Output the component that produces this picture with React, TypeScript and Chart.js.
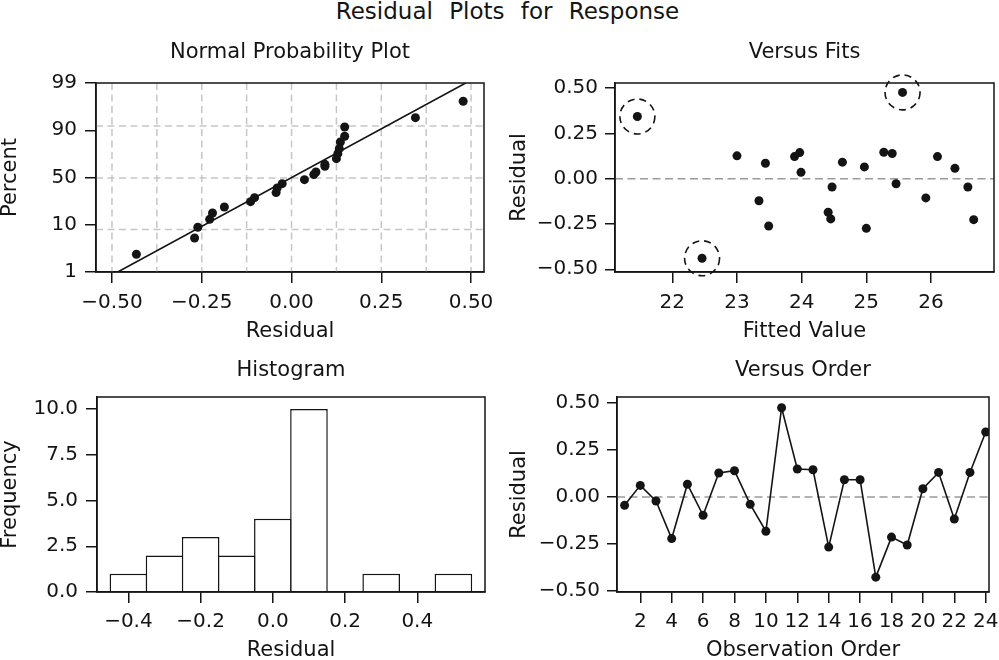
import React, { useEffect, useRef } from 'react';
import { Chart, registerables } from 'chart.js';

Chart.register(...registerables);

// ---------------- data ----------------
const MAIN_TITLE = 'Residual Plots for Response';

// Normal probability plot: residuals and their plotting position on the percent axis
// (percent axis position: 0 = 1 %, 1 = 10 %, 2 = 50 %, 3 = 90 %, 4 = 99 %)
const npResidual = [
  -0.432, -0.27, -0.261, -0.228, -0.22, -0.187, -0.114, -0.103, -0.043, -0.04, -0.026, 0.036,
  0.062, 0.068, 0.093, 0.093, 0.125, 0.129, 0.133, 0.136, 0.148, 0.148, 0.345, 0.478,
];
const npPercentPos = [
  0.375, 0.72, 0.946, 1.115, 1.249, 1.376, 1.489, 1.574, 1.68, 1.778, 1.87, 1.955,
  2.061, 2.117, 2.237, 2.279, 2.399, 2.505, 2.611, 2.752, 2.872, 3.069, 3.267, 3.613,
];
const npPercentTickPos = [0, 1, 2, 3, 4];
const npPercentLabels = ['1', '10', '50', '90', '99'];
const npFitResidual = [-0.484, 0.485];
const npFitPercentPos = [0, 4];
const npGridResidual = [-0.5, -0.375, -0.25, -0.125, 0, 0.125, 0.25, 0.375, 0.5];
const npGridPercentPos = [0.9, 1.99, 3.09];

// Versus fits
const fittedValue = [
  21.46, 22.46, 23.0, 23.34, 23.44, 23.49, 23.89, 23.97, 23.99, 24.41, 24.45, 24.47,
  24.63, 24.97, 25.0, 25.27, 25.4, 25.46, 25.56, 25.92, 26.1, 26.37, 26.57, 26.66,
];
const fitResidual = [
  0.343, -0.439, 0.126, -0.122, 0.085, -0.261, 0.122, 0.144, 0.035, -0.185, -0.222, -0.046,
  0.091, 0.065, -0.274, 0.146, 0.139, -0.028, 0.476, -0.106, 0.122, 0.057, -0.046, -0.226,
];
const circledFitIndex = [0, 1, 18];

// Histogram
const histBinCenter = [-0.4, -0.3, -0.2, -0.1, 0, 0.1, 0.2, 0.3, 0.4, 0.5];
const histCount = [1, 2, 3, 2, 4, 10, 0, 1, 0, 1];

// Versus order
const obsOrder = [1, 2, 3, 4, 5, 6, 7, 8, 9, 10, 11, 12, 13, 14, 15, 16, 17, 18, 19, 20, 21, 22, 23, 24];
const orderResidual = [
  -0.044, 0.062, -0.021, -0.221, 0.068, -0.097, 0.128, 0.14, -0.039, -0.182, 0.475, 0.149,
  0.145, -0.266, 0.092, 0.092, -0.426, -0.213, -0.255, 0.044, 0.131, -0.117, 0.131, 0.346,
];

// Tick values
const residualTicks = [-0.5, -0.25, 0, 0.25, 0.5];
const fitTicks = [22, 23, 24, 25, 26];
const histResidualTicks = [-0.4, -0.2, 0, 0.2, 0.4];
const freqTicks = [0, 2.5, 5, 7.5, 10];
const orderTicks = [2, 4, 6, 8, 10, 12, 14, 16, 18, 20, 22, 24];

// ---------------- styling ----------------
const FONT = "'DejaVu Sans', 'Liberation Sans', sans-serif";
const INK = '#141414';
const GRID = '#c6c6c6';
const REF = '#9a9a9a';

const tickFont = { family: FONT, size: 20, lineHeight: 1.2 };
const labelFont = { family: FONT, size: 21, lineHeight: 1 };
const titleFont = { family: FONT, size: 21, weight: 'normal' as const, lineHeight: 1.2 };

const signed = (v: number, d: number) => (v < 0 ? '\u2212' : '') + Math.abs(v).toFixed(d);

function axis(o: {
  pos: 'bottom' | 'left';
  min: number;
  max: number;
  ticks: number[];
  fmt: (v: number) => string;
  title: string;
  size: number;
  titlePad: number;
  tickPad: number;
  tickLen: number;
}) {
  const horizontal = o.pos === 'bottom';
  return {
    type: 'linear',
    position: o.pos,
    min: o.min,
    max: o.max,
    offset: false,
    afterBuildTicks: (s: any) => {
      s.ticks = o.ticks.map((v) => ({ value: v }));
    },
    afterFit: (s: any) => {
      if (horizontal) s.height = o.size;
      else s.width = o.size;
    },
    ticks: {
      autoSkip: false,
      maxRotation: 0,
      minRotation: 0,
      padding: o.tickPad,
      color: INK,
      font: tickFont,
      callback: (v: any) => o.fmt(Number(v)),
    },
    grid: {
      display: true,
      offset: false,
      drawOnChartArea: false,
      drawTicks: true,
      tickLength: o.tickLen,
      tickWidth: 1.5,
      tickColor: INK,
      color: INK,
      lineWidth: 1.5,
    },
    border: { display: true, color: INK, width: 1.5 },
    title: {
      display: true,
      text: o.title,
      color: INK,
      font: labelFont,
      padding: horizontal ? { top: 0, bottom: o.titlePad } : { top: o.titlePad, bottom: 0 },
    },
  };
}

const spacer = (w: number) => ({
  type: 'linear',
  position: 'right',
  display: true,
  afterFit: (s: any) => {
    s.width = w;
  },
  ticks: { display: false },
  grid: { display: false, drawTicks: false },
  border: { display: false },
  title: { display: false },
});

function decor(cfg: { gridX?: number[]; gridY?: number[]; zeroY?: boolean; rings?: { x: number; y: number }[] }) {
  return {
    id: 'decor',
    beforeDatasetsDraw(chart: any) {
      const { ctx, chartArea: a, scales } = chart;
      ctx.save();
      ctx.beginPath();
      ctx.rect(a.left, a.top, a.width, a.height);
      ctx.clip();
      ctx.lineWidth = 1.5;
      ctx.strokeStyle = GRID;
      ctx.setLineDash([7, 4.5]);
      for (const v of cfg.gridX || []) {
        const x = scales.x.getPixelForValue(v);
        ctx.beginPath();
        ctx.moveTo(x, a.top);
        ctx.lineTo(x, a.bottom);
        ctx.stroke();
      }
      for (const v of cfg.gridY || []) {
        const y = scales.y.getPixelForValue(v);
        ctx.beginPath();
        ctx.moveTo(a.left, y);
        ctx.lineTo(a.right, y);
        ctx.stroke();
      }
      if (cfg.zeroY) {
        ctx.strokeStyle = REF;
        ctx.setLineDash([8, 4.5]);
        const y = scales.y.getPixelForValue(0);
        ctx.beginPath();
        ctx.moveTo(a.left, y);
        ctx.lineTo(a.right, y);
        ctx.stroke();
      }
      ctx.restore();
    },
    afterDatasetsDraw(chart: any) {
      const { ctx, chartArea: a, scales } = chart;
      ctx.save();
      ctx.strokeStyle = INK;
      ctx.lineWidth = 1.6;
      ctx.setLineDash([7, 5]);
      for (const r of cfg.rings || []) {
        const x = scales.x.getPixelForValue(r.x);
        const y = scales.y.getPixelForValue(r.y);
        ctx.beginPath();
        ctx.arc(x, y, 17.5, 0, Math.PI * 2);
        ctx.stroke();
      }
      ctx.setLineDash([]);
      ctx.lineWidth = 1.5;
      ctx.strokeRect(a.left, a.top, a.width, a.height);
      ctx.restore();
    },
  };
}

function baseOptions(p: { title: string; titlePad: { top: number; bottom: number }; x: any; y: any; sideWidth: number }) {
  return {
    animation: false,
    responsive: false,
    devicePixelRatio: 1,
    events: [],
    layout: { padding: 0 },
    plugins: {
      legend: { display: false },
      tooltip: { enabled: false },
      title: { display: true, text: p.title, color: INK, font: titleFont, padding: p.titlePad },
    },
    scales: { x: p.x, y: p.y, yR: spacer(p.sideWidth) },
  };
}

// ---------------- panels ----------------
function normalConfig(): any {
  return {
    type: 'scatter',
    data: {
      datasets: [
        {
          data: npResidual.map((r, i) => ({ x: r, y: npPercentPos[i] })),
          pointRadius: 4.5,
          pointBackgroundColor: INK,
          pointBorderWidth: 0,
          showLine: false,
        },
        {
          data: npFitResidual.map((r, i) => ({ x: r, y: npFitPercentPos[i] })),
          showLine: true,
          borderColor: INK,
          borderWidth: 1.6,
          pointRadius: 0,
        },
      ],
    },
    options: baseOptions({
      title: 'Normal Probability Plot',
      titlePad: { top: 9, bottom: 17.8 },
      sideWidth: 96,
      x: axis({ pos: 'bottom', min: -0.5445, max: 0.536, ticks: residualTicks, fmt: (v) => signed(v, 2), title: 'Residual', size: 89, titlePad: 18.5, tickPad: 8, tickLen: 11 }),
      y: axis({
        pos: 'left', min: 0, max: 4, ticks: npPercentTickPos,
        fmt: (v) => npPercentLabels[npPercentTickPos.indexOf(v)] ?? '',
        title: 'Percent', size: 96, titlePad: 0.5, tickPad: 8, tickLen: 11,
      }),
    }),
    plugins: [decor({ gridX: npGridResidual, gridY: npGridPercentPos })],
  };
}

function fitsConfig(): any {
  return {
    type: 'scatter',
    data: {
      datasets: [
        {
          data: fittedValue.map((f, i) => ({ x: f, y: fitResidual[i] })),
          pointRadius: 4.5,
          pointBackgroundColor: INK,
          pointBorderWidth: 0,
        },
      ],
    },
    options: baseOptions({
      title: 'Versus Fits',
      titlePad: { top: 9, bottom: 17.8 },
      sideWidth: 110,
      x: axis({ pos: 'bottom', min: 21.114, max: 26.974, ticks: fitTicks, fmt: (v) => String(v), title: 'Fitted Value', size: 89, titlePad: 18.5, tickPad: 8, tickLen: 11 }),
      y: axis({ pos: 'left', min: -0.515, max: 0.528, ticks: residualTicks, fmt: (v) => signed(v, 2), title: 'Residual', size: 110, titlePad: 3.9, tickPad: 7, tickLen: 10 }),
    }),
    plugins: [decor({ zeroY: true, rings: circledFitIndex.map((i) => ({ x: fittedValue[i], y: fitResidual[i] })) })],
  };
}

function histConfig(): any {
  return {
    type: 'bar',
    data: {
      datasets: [
        {
          data: histBinCenter.map((c, i) => ({ x: c, y: histCount[i] })),
          backgroundColor: '#ffffff',
          borderColor: INK,
          borderWidth: 1.5,
          barPercentage: 1.0415,
          categoryPercentage: 1,
        },
      ],
    },
    options: baseOptions({
      title: 'Histogram',
      titlePad: { top: 8.1, bottom: 13.7 },
      sideWidth: 97,
      x: axis({ pos: 'bottom', min: -0.487, max: 0.5875, ticks: histResidualTicks, fmt: (v) => signed(v, 1), title: 'Residual', size: 78, titlePad: 8.5, tickPad: 7, tickLen: 11 }),
      y: axis({ pos: 'left', min: 0, max: 10.66, ticks: freqTicks, fmt: (v) => v.toFixed(1), title: 'Frequency', size: 97, titlePad: 0.5, tickPad: 8, tickLen: 11 }),
    }),
    plugins: [decor({})],
  };
}

function orderConfig(): any {
  return {
    type: 'scatter',
    data: {
      datasets: [
        {
          data: obsOrder.map((o, i) => ({ x: o, y: orderResidual[i] })),
          showLine: true,
          borderColor: INK,
          borderWidth: 1.6,
          pointRadius: 4.5,
          pointBackgroundColor: INK,
          pointBorderWidth: 0,
        },
      ],
    },
    options: baseOptions({
      title: 'Versus Order',
      titlePad: { top: 8.1, bottom: 13.7 },
      sideWidth: 112,
      x: axis({ pos: 'bottom', min: 0.517, max: 24.21, ticks: orderTicks, fmt: (v) => String(v), title: 'Observation Order', size: 78, titlePad: 8.5, tickPad: 7, tickLen: 11 }),
      y: axis({ pos: 'left', min: -0.505, max: 0.532, ticks: residualTicks, fmt: (v) => signed(v, 2), title: 'Residual', size: 112, titlePad: 3.9, tickPad: 7, tickLen: 10 }),
    }),
    plugins: [decor({ zeroY: true })],
  };
}

function Panel(props: { make: () => any; left: number; top: number; width: number; height: number }) {
  const ref = useRef<HTMLCanvasElement | null>(null);
  useEffect(() => {
    if (!ref.current) return;
    const chart = new Chart(ref.current, props.make());
    return () => chart.destroy();
  }, []);
  return (
    <canvas
      ref={ref}
      width={props.width}
      height={props.height}
      style={{ position: 'absolute', left: props.left, top: props.top, width: props.width, height: props.height }}
    />
  );
}

export default function App() {
  return (
    <div
      style={{
        position: 'absolute',
        left: 0,
        top: 0,
        width: 999,
        height: 660,
        overflow: 'hidden',
        background: '#ffffff',
      }}
    >
      <div
        style={{
          position: 'absolute',
          left: 8,
          top: 0,
          width: 999,
          textAlign: 'center',
          fontFamily: FONT,
          fontSize: 23,
          lineHeight: '23px',
          wordSpacing: 9,
          color: INK,
          whiteSpace: 'nowrap',
        }}
      >
        {MAIN_TITLE}
      </div>
      <Panel make={normalConfig} left={0} top={31} width={580} height={330} />
      <Panel make={fitsConfig} left={505} top={31} width={599} height={330} />
      <Panel make={histConfig} left={0} top={350} width={582} height={320} />
      <Panel make={orderConfig} left={505} top={350} width={596} height={320} />
    </div>
  );
}
